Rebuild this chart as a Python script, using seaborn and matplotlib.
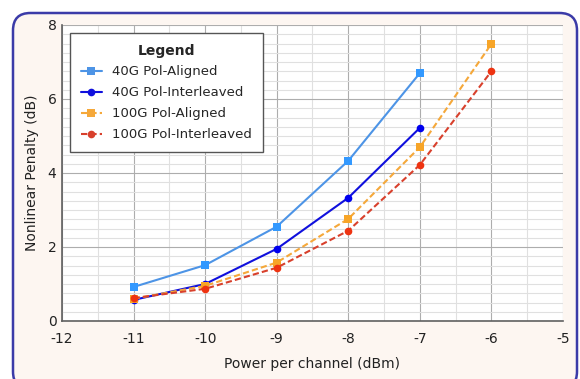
import matplotlib
matplotlib.use("Agg")
import matplotlib.pyplot as plt
from matplotlib.patches import FancyBboxPatch
from matplotlib.ticker import MultipleLocator
import seaborn as sns
import pandas as pd

power = [-11, -10, -9, -8, -7, -6]
series_names = ["40G Pol-Aligned", "40G Pol-Interleaved", "100G Pol-Aligned", "100G Pol-Interleaved"]
pen_40g_aligned = [0.92, 1.51, 2.55, 4.33, 6.70]
pen_40g_interleaved = [0.57, 1.00, 1.95, 3.33, 5.22]
pen_100g_aligned = [0.60, 0.95, 1.58, 2.76, 4.70, 7.49]
pen_100g_interleaved = [0.62, 0.87, 1.44, 2.44, 4.22, 6.75]

rows = []
for name, vals in zip(series_names, [pen_40g_aligned, pen_40g_interleaved, pen_100g_aligned, pen_100g_interleaved]):
    for x, y in zip(power, vals):
        rows.append({"Power": x, "Penalty": y, "Series": name})
df = pd.DataFrame(rows)

sns.set_theme(style="white")
plt.rcParams['font.family'] = ['DejaVu Sans']

fig = plt.figure(figsize=(5.8, 3.79), dpi=100)
fig.patch.set_facecolor("white")
frame = FancyBboxPatch((13/580, -10/379), (577-13)/580, (366+10)/379,
                       boxstyle="round,pad=0,rounding_size=0.03",
                       transform=fig.transFigure, facecolor="#fdf6f1",
                       edgecolor="#3b3ba8", linewidth=1.8, zorder=-10, mutation_aspect=580/379)
fig.patches.append(frame)

ax = fig.add_axes([62/580, 1-321/379, (563-62)/580, (321-25)/379])
ax.set_zorder(5)
ax.set_facecolor("white")

palette = {"40G Pol-Aligned": "#4d94e6", "40G Pol-Interleaved": "#1010dd",
           "100G Pol-Aligned": "#f5a83a", "100G Pol-Interleaved": "#d8402c"}
markers = {"40G Pol-Aligned": "s", "40G Pol-Interleaved": "o",
           "100G Pol-Aligned": "s", "100G Pol-Interleaved": "o"}
dashes = {"40G Pol-Aligned": "", "40G Pol-Interleaved": "",
          "100G Pol-Aligned": (3, 1.5), "100G Pol-Interleaved": (3, 1.5)}

sns.lineplot(data=df, x="Power", y="Penalty", hue="Series", style="Series",
             hue_order=series_names, style_order=series_names,
             palette=palette, markers=markers, dashes=dashes,
             markersize=5.5, markeredgewidth=0, linewidth=1.5, ax=ax, zorder=3)

mcolors = {"40G Pol-Aligned": "#3399ff", "40G Pol-Interleaved": "#0000ee",
           "100G Pol-Aligned": "#f7a528", "100G Pol-Interleaved": "#ee3311"}
for line, name in zip(ax.lines, series_names):
    line.set_markerfacecolor(mcolors[name])

ax.set_xlim(-12, -5)
ax.set_ylim(0, 8)
ax.xaxis.set_major_locator(MultipleLocator(1))
ax.xaxis.set_minor_locator(MultipleLocator(0.5))
ax.yaxis.set_major_locator(MultipleLocator(2))
ax.yaxis.set_minor_locator(MultipleLocator(0.25))
ax.grid(which="major", color="#adadad", linewidth=0.8)
ax.grid(which="minor", color="#e0e0e0", linewidth=0.8)
ax.set_axisbelow(True)
for s in ["top", "right"]:
    ax.spines[s].set_visible(False)
for s in ["left", "bottom"]:
    ax.spines[s].set_color("#606060")
    ax.spines[s].set_linewidth(1.2)
ax.tick_params(which="both", direction="in", color="#606060", labelsize=10, labelcolor="#222222")
ax.tick_params(axis="y", which="major", length=5, pad=4)
ax.tick_params(axis="y", which="minor", length=5)
ax.tick_params(axis="x", which="major", length=0, pad=8)
ax.tick_params(axis="x", which="minor", length=5)
ax.set_xticklabels([f"{t:g}" for t in ax.get_xticks()])

ax.set_xlabel("Power per channel (dBm)", fontsize=10, color="#222222", labelpad=8)
ax.set_ylabel("Nonlinear Penalty (dB)", fontsize=10, color="#222222", labelpad=6)

leg = ax.legend(title="Legend", loc="upper left", bbox_to_anchor=(8/501, 1-8/296),
                borderaxespad=0,
                fontsize=9.5, title_fontproperties={"weight": "bold", "size": 10},
                frameon=True, fancybox=False, edgecolor="#555555", framealpha=1,
                handlelength=1.6, borderpad=0.8, labelspacing=0.6)
leg.get_frame().set_linewidth(1.0)

fig.savefig("out.png", dpi=100, facecolor=fig.get_facecolor())
